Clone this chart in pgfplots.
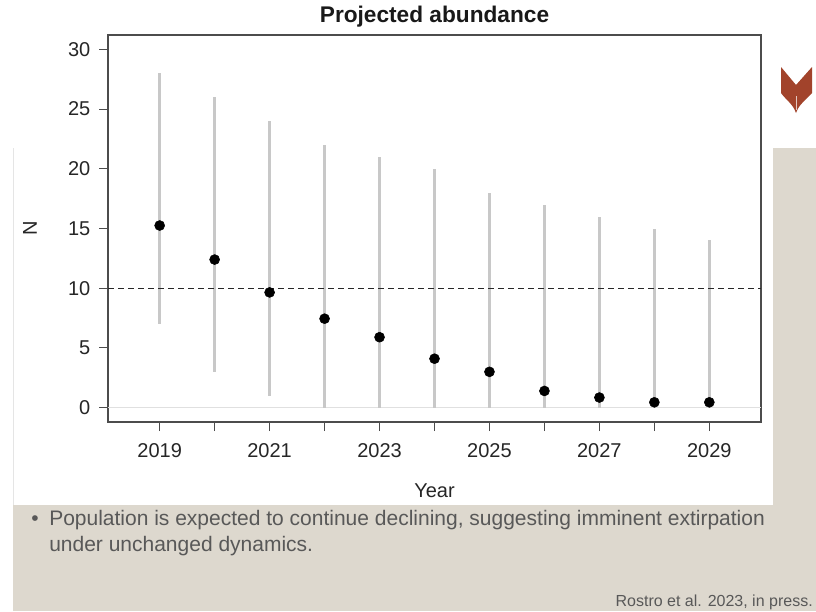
\documentclass[border=0pt]{standalone}
\usepackage{fontspec}
\setmainfont{Liberation Sans}
\usepackage{pgfplots}
\pgfplotsset{compat=1.18}
\usepackage{pgfplotstable}
\definecolor{beige}{HTML}{DDD8CE}
\definecolor{barg}{HTML}{C8C8C8}
\definecolor{logo}{HTML}{A2432B}
\definecolor{txtg}{HTML}{585858}
\def\u{0.75pt}
\pgfplotstableread{
year n lo hi
2019 15.25 7 28
2020 12.4 3 26
2021 9.65 1 24
2022 7.45 0 22
2023 5.9 0 21
2024 4.1 0 20
2025 3.0 0 18
2026 1.4 0 17
2027 0.85 0 16
2028 0.45 0 15
2029 0.45 0 14
}\datatable
\begin{document}
\begin{tikzpicture}
\useasboundingbox (0,0) rectangle ({816*\u},{-611*\u});
\fill[white] (0,0) rectangle ({816*\u},{-611*\u});
\fill[beige] ({13*\u},{-148*\u}) rectangle ({816*\u},{-611*\u});
\fill[white] ({13*\u},0) rectangle ({773*\u},{-505*\u});
\draw[black!10, line width=1.2pt] ({13.5*\u},{-148*\u}) -- ({13.5*\u},{-505*\u});
% logo
\fill[logo] ({781*\u},{-67*\u}) -- ({796*\u},{-85*\u}) -- ({812*\u},{-67*\u}) -- ({812*\u},{-93*\u})
  .. controls ({806*\u},{-100*\u}) and ({799*\u},{-104*\u}) .. ({796*\u},{-113*\u})
  .. controls ({793*\u},{-104*\u}) and ({786*\u},{-100*\u}) .. ({781*\u},{-93*\u}) -- cycle;
\draw[white!70!logo, line width=0.5pt] ({796*\u},{-96*\u}) -- ({796*\u},{-110*\u});
\begin{axis}[
  at={(81pt,-316.5pt)}, anchor=south west,
  scale only axis, width=489.75pt, height=290.25pt,
  xmin=2018.06, xmax=2029.94, ymin=-1.2, ymax=31.2,
  axis line style={black!70, line width=1pt},
  xtick={2019,...,2029},
  xticklabels={2019,,2021,,2023,,2025,,2027,,2029},
  ytick={0,5,...,30},
  xtick pos=lower, ytick pos=left,
  tick align=outside, major tick length=6.75pt,
  tick style={black!70, line width=0.8pt},
  tick label style={font=\fontsize{15}{18}\selectfont, text=black!85},
  /pgf/number format/assume math mode=true,
  xticklabel shift=6pt,
  yticklabel shift=3pt,
  xlabel={Year}, ylabel={N},
  label style={font=\fontsize{15}{18}\selectfont, text=black!85},
  xlabel style={at={(axis description cs:0.5,0)}, anchor=center, yshift=-51.75pt},
  ylabel style={at={(axis description cs:-0.1194,0.5)}, anchor=center},
  clip=false,
]
\addplot[black!12, line width=1.2pt, forget plot] coordinates {(2018.06,0) (2029.94,0)};
\addplot[only marks, mark=none, forget plot,
  error bars/.cd, y dir=both, y explicit, error mark=none,
  error bar style={draw=barg, line width=1.8pt}]
  table[x=year, y=n, y error plus expr=\thisrow{hi}-\thisrow{n}, y error minus expr=\thisrow{n}-\thisrow{lo}] \datatable;
\addplot[black!85, line width=0.8pt, dash pattern=on 4.5pt off 3pt, forget plot] coordinates {(2018.06,10) (2029.94,10)};
\addplot[only marks, mark=*, mark size=3.75pt, black] table[x=year, y=n] \datatable;
\end{axis}
\node[anchor=base, font=\bfseries\fontsize{17}{20}\selectfont, text=black!90] at ({434.5*\u},{-22*\u}) {Projected abundance};
\node[anchor=base west, inner sep=0pt, text=txtg, font=\fontsize{15.75}{18}\selectfont] at ({31*\u},{-525*\u}) {•};
\node[anchor=base west, inner sep=0pt, text=txtg, font=\fontsize{15.75}{18}\selectfont] at ({49*\u},{-525*\u}) {Population is expected to continue declining, suggesting imminent extirpation};
\node[anchor=base west, inner sep=0pt, text=txtg, font=\fontsize{15.75}{18}\selectfont] at ({49*\u},{-551*\u}) {under unchanged dynamics.};
\node[anchor=base east, inner sep=0pt, text=txtg, font=\fontsize{12}{14}\selectfont] at ({813*\u},{-606*\u}) {Rostro et al. 2023, in press.};
\end{tikzpicture}
\end{document}
